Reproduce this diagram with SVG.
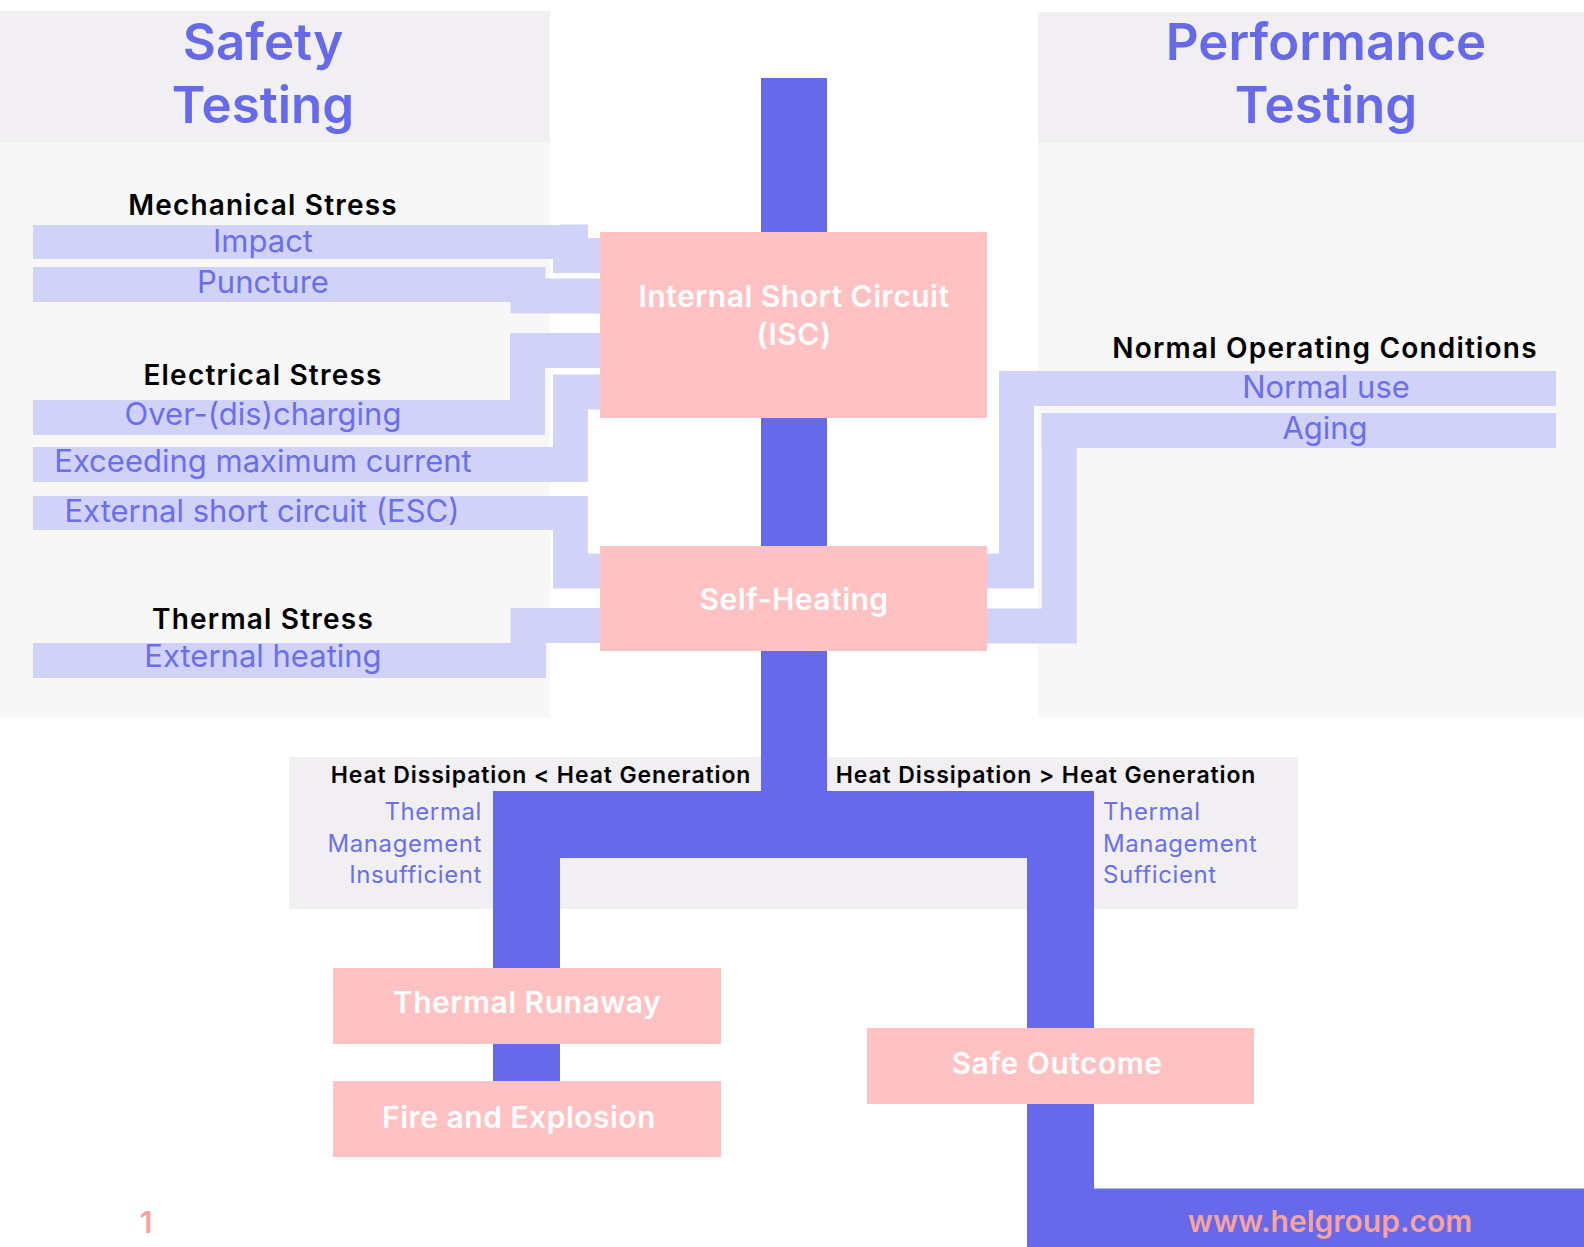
<svg xmlns="http://www.w3.org/2000/svg" width="1584" height="1247" viewBox="0 0 1584 1247">
<style>
text{font-family:Inter,"Liberation Sans",sans-serif;}
.hdr{fill:#F1EFF2}
.pnl{fill:#F7F7F7}
.bar{fill:#D1D2F7}
.lc{fill:none;stroke:#D1D2F7;stroke-width:35;stroke-linejoin:miter}
.bc{fill:none;stroke:#6569EA;stroke-linejoin:miter}
.box{fill:#FFC1C2}
.title{font-size:51px;font-weight:600;fill:#6569EA;text-anchor:middle}
.cat{font-size:28px;font-weight:600;fill:#000;text-anchor:middle;letter-spacing:1.2px}
.item{font-size:31px;fill:#6B6FEA;text-anchor:middle}
.bt{font-size:30px;font-weight:600;fill:#FFFFFF;text-anchor:middle;letter-spacing:0.5px}
.cond{font-size:23px;font-weight:600;fill:#000;text-anchor:middle;letter-spacing:0.9px}
.tm{font-size:24px;fill:#6B6FEA;letter-spacing:0.6px}
.foot{font-size:30px;font-weight:600;fill:#F7A3A0;text-anchor:middle}
</style>
<rect x="0" y="0" width="1584" height="1247" fill="#FFFFFF"/>
<g id="safety-panel">
<rect class="hdr" x="0" y="11" width="550" height="131"/>
<rect class="pnl" x="0" y="142" width="550" height="576"/>
<text class="title" x="263" y="60">Safety</text>
<text class="title" x="263" y="123">Testing</text>
</g>
<g id="performance-panel">
<rect class="hdr" x="1038" y="12" width="546" height="131"/>
<rect class="pnl" x="1038" y="143" width="546" height="575"/>
<text class="title" x="1326" y="60">Performance</text>
<text class="title" x="1326" y="123">Testing</text>
</g>
<g id="heat-panel">
<rect class="hdr" x="289" y="757" width="1009" height="152"/>
</g>
<g id="connectors">
<path class="lc" d="M560,242 H570.5 V255.5 H600"/>
<path class="lc" d="M520,284.5 H528 V296 H600"/>
<path class="lc" d="M527.5,410 V350.5 H600"/>
<path class="lc" d="M570.5,460 V392 H600"/>
<path class="lc" d="M570.5,520 V571 H600"/>
<path class="lc" d="M528,655 V625.5 H600"/>
<path class="lc" d="M987,571 H1016.5 V395"/>
<path class="lc" d="M987,626 H1059.3 V435"/>
<path class="bc" stroke-width="66" d="M794,78 V830"/>
<path class="bc" stroke-width="67" d="M526.5,1081 V824.5 H1060.5 V1222 H1584"/>
</g>
<g id="mechanical-stress">
<text class="cat" x="263" y="215">Mechanical Stress</text>
</g>
<g id="impact">
<rect class="bar" x="33" y="225" width="555" height="34"/>
<text class="item" x="263" y="252">Impact</text>
</g>
<g id="puncture">
<rect class="bar" x="33" y="267" width="512" height="35"/>
<text class="item" x="263" y="293">Puncture</text>
</g>
<g id="electrical-stress">
<text class="cat" x="263" y="385">Electrical Stress</text>
</g>
<g id="over-discharging">
<rect class="bar" x="33" y="400" width="512" height="35"/>
<text class="item" x="263" y="425">Over-(dis)charging</text>
</g>
<g id="exceeding-current">
<rect class="bar" x="33" y="447" width="555" height="35"/>
<text class="item" x="263" y="472">Exceeding maximum current</text>
</g>
<g id="esc">
<rect class="bar" x="33" y="496" width="555" height="34"/>
<text class="item" x="262" y="522">External short circuit (ESC)</text>
</g>
<g id="thermal-stress">
<text class="cat" x="263" y="629">Thermal Stress</text>
</g>
<g id="external-heating">
<rect class="bar" x="33" y="643" width="513" height="35"/>
<text class="item" x="263" y="667">External heating</text>
</g>
<g id="normal-operating">
<text class="cat" x="1325" y="358">Normal Operating Conditions</text>
</g>
<g id="normal-use">
<rect class="bar" x="999" y="371" width="557" height="35"/>
<text class="item" x="1326" y="398">Normal use</text>
</g>
<g id="aging">
<rect class="bar" x="1041.5" y="413" width="514.5" height="35"/>
<text class="item" x="1325" y="439">Aging</text>
</g>
<g id="isc">
<rect class="box" x="600" y="232" width="387" height="186"/>
<text class="bt" x="794" y="307">Internal Short Circuit</text>
<text class="bt" x="794" y="345">(ISC)</text>
</g>
<g id="self-heating">
<rect class="box" x="600" y="546" width="387" height="105"/>
<text class="bt" x="794" y="610">Self-Heating</text>
</g>
<g id="insufficient">
<text class="cond" x="541" y="783">Heat Dissipation &lt; Heat Generation</text>
<text class="tm" x="482" y="820" text-anchor="end">Thermal</text>
<text class="tm" x="482" y="852" text-anchor="end">Management</text>
<text class="tm" x="482" y="883" text-anchor="end">Insufficient</text>
</g>
<g id="sufficient">
<text class="cond" x="1046" y="783">Heat Dissipation &gt; Heat Generation</text>
<text class="tm" x="1103" y="820">Thermal</text>
<text class="tm" x="1103" y="852">Management</text>
<text class="tm" x="1103" y="883">Sufficient</text>
</g>
<g id="thermal-runaway">
<rect class="box" x="333" y="968" width="388" height="76"/>
<text class="bt" x="527" y="1013">Thermal Runaway</text>
</g>
<g id="fire-explosion">
<rect class="box" x="333" y="1081" width="388" height="76"/>
<text class="bt" x="519" y="1128">Fire and Explosion</text>
</g>
<g id="safe-outcome">
<rect class="box" x="867" y="1028" width="387" height="76"/>
<text class="bt" x="1057" y="1074">Safe Outcome</text>
</g>
<g id="footer">
<text class="foot" x="1330" y="1232">www.helgroup.com</text>
<text class="foot" x="146" y="1233">1</text>
</g>
</svg>
